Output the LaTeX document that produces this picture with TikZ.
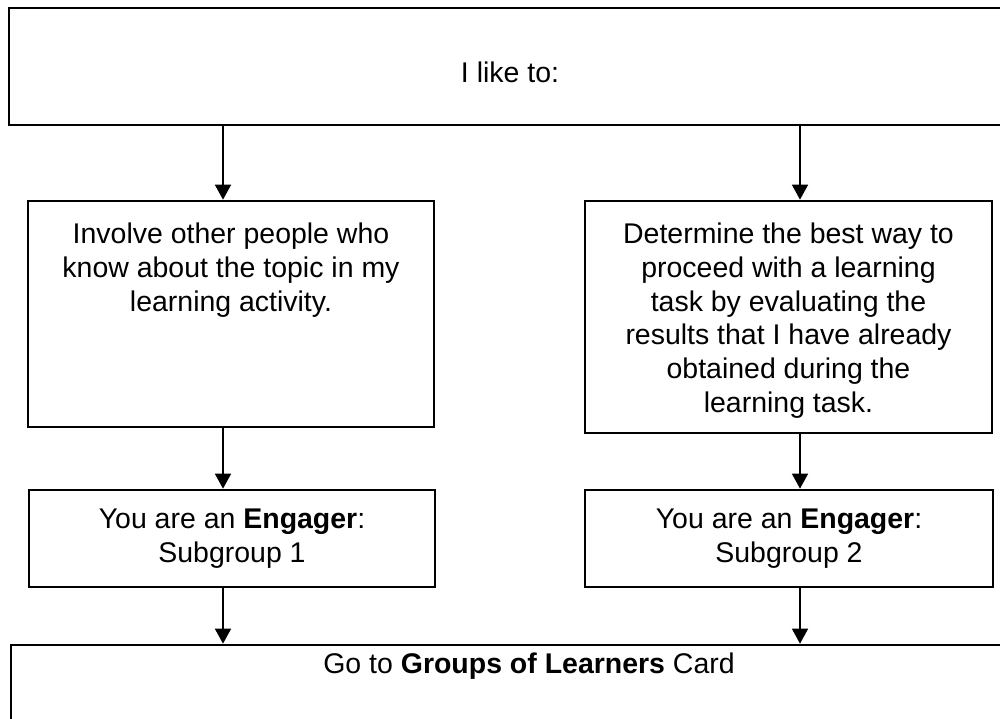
\documentclass[tikz,border=0pt]{standalone}
\usepackage{fontspec}
\setmainfont{Liberation Sans}
\usetikzlibrary{arrows.meta,positioning}
\newcommand{\cardtext}[3]{\parbox[c][#1][t]{#2}{\centering #3}}

\begin{document}
\begin{tikzpicture}[>={Triangle[length=0.3cm,width=0.32cm]}, semithick,
      card/.style={draw=black,line width=1.5pt,inner xsep=0pt,font=\fontsize{16.2}{19.2}\selectfont},
      link/.style={->,line width=0.9pt}]
    \useasboundingbox (0,0) rectangle (20,-14.38);
    \coordinate (colL) at (4.46,0);
    \coordinate (colR) at (16,0);
    \node[card,minimum width=20.04cm,inner ysep=0pt,text height=1.5cm,text depth=0.84cm] at (10.2,-1.33) (like) {I like to:};
    \node[card,inner ysep=0.44cm] at (4.62,-6.28) (involve) {\cardtext{3.64cm}{8.12cm}{Involve other people who\\ know about the topic in my\\ learning activity.}};
    \node[card,inner ysep=0.44cm] at (15.77,-6.34) (determine) {\cardtext{3.76cm}{8.14cm}{Determine the best way to\\ proceed with a learning\\ task by evaluating the\\ results that I have already\\ obtained during the\\ learning task.}};
    \node[card,minimum width=8.12cm,minimum height=1.94cm,inner ysep=0pt,align=center] at (4.64,-10.77) (sub1) {You are an \textbf{Engager}:\\ Subgroup 1};
    \node[card,minimum width=8.16cm,minimum height=1.94cm,inner ysep=0pt,align=center] at (15.78,-10.77) (sub2) {You are an \textbf{Engager}:\\ Subgroup 2};
    \node[card,inner ysep=0.16cm] at (10.58,-14.45) (cards) {\cardtext{2.78cm}{20.72cm}{Go to \textbf{Groups of Learners} Card}};
    \draw[link] (like.south -| colL) -- (involve.north -| colL);
    \draw[link] (like.south -| colR) -- (determine.north -| colR);
    \draw[link] (involve.south -| colL) -- (sub1.north -| colL);
    \draw[link] (determine.south -| colR) -- (sub2.north -| colR);
    \draw[link] (sub1.south -| colL) -- (cards.north -| colL);
    \draw[link] (sub2.south -| colR) -- (cards.north -| colR);
\end{tikzpicture}
\end{document}
